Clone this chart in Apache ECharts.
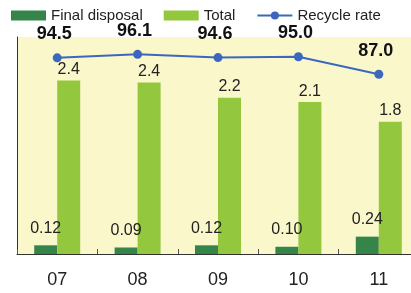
<!DOCTYPE html>
<html><head><meta charset="utf-8">
<script src="https://cdn.jsdelivr.net/npm/echarts@6/dist/echarts.min.js"></script>
<style>html,body{margin:0;padding:0;background:#fff}#c{width:411px;height:293px}</style>
</head><body><div id="c"></div>
<script>
const categories = ['07', '08', '09', '10', '11'];
const finalDisposal = [0.12, 0.09, 0.12, 0.10, 0.24];
const total = [2.4, 2.37, 2.16, 2.1, 1.83];
const recycleRate = [94.5, 96.1, 94.6, 95.0, 87.0];
const seriesNames = ['Final disposal', 'Total', 'Recycle rate'];

const FONT = '"Liberation Sans", Arial, sans-serif';
const chart = echarts.init(document.getElementById('c'), null, {renderer: 'canvas'});
chart.setOption({
  animation: false,
  textStyle: {fontFamily: FONT},
  legend: {
    left: 6, top: 3, padding: 5,
    itemWidth: 35, itemHeight: 10, itemGap: 21,
    textStyle: {fontFamily: FONT, fontSize: 15, color: '#222'},
    data: [
      {name: seriesNames[0], icon: 'rect'},
      {name: seriesNames[1], icon: 'rect'},
      {name: seriesNames[2]}
    ]
  },
  grid: {
    left: 17, top: 37, width: 402, bottom: 39,
    outerBoundsMode: 'none', containLabel: false,
    show: true, backgroundColor: '#FAF8CB', borderWidth: 0
  },
  xAxis: {
    type: 'category', data: categories, boundaryGap: true,
    axisLine: {lineStyle: {color: '#333', width: 1}},
    axisTick: {show: true, inside: true, length: 5, lineStyle: {color: '#555'}},
    axisLabel: {fontFamily: FONT, fontSize: 18, color: '#222', margin: 17}
  },
  yAxis: [
    {type: 'value', min: 0, max: 3,
     axisLine: {show: true, lineStyle: {color: '#333', width: 1}},
     axisTick: {show: false}, axisLabel: {show: false}, splitLine: {show: false}},
    {type: 'value', min: 5, max: 104, show: false, splitLine: {show: false}}
  ],
  series: [
    {
      name: seriesNames[0], type: 'bar', data: finalDisposal,
      barWidth: 23, barGap: '0%',
      itemStyle: {color: '#35844A'},
      label: {show: true, position: 'top', distance: 9, fontFamily: FONT, fontSize: 16, color: '#222',
        formatter: p => p.value.toFixed(2)}
    },
    {
      name: seriesNames[1], type: 'bar', data: total,
      barWidth: 23, barGap: '0%',
      itemStyle: {color: '#93C73E'},
      label: {show: true, position: 'top', distance: 3, fontFamily: FONT, fontSize: 16, color: '#222',
        formatter: p => p.value.toFixed(1)}
    },
    {
      name: seriesNames[2], type: 'line', yAxisIndex: 1, data: recycleRate,
      symbol: 'circle', symbolSize: 9,
      lineStyle: {color: '#3B68BE', width: 2},
      itemStyle: {color: '#3B68BE'},
      label: {show: true, position: 'top', distance: 10, offset: [-3, 0], fontFamily: FONT,
        fontSize: 18, fontWeight: 'bold', color: '#111',
        formatter: p => p.value.toFixed(1)}
    }
  ]
});
</script></body></html>
